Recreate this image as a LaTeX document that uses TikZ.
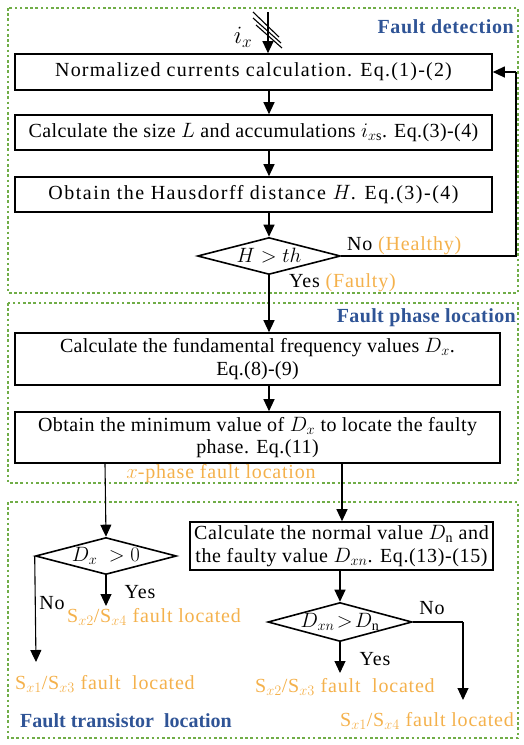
\documentclass[tikz,border=0pt]{standalone}
\usepackage{fontspec}
\setmainfont{Liberation Serif}
\usetikzlibrary{arrows.meta,shapes.geometric}
\definecolor{grn}{RGB}{112,173,71}
\definecolor{ttl}{RGB}{47,84,150}
\definecolor{org}{RGB}{244,177,76}
\begin{document}
\begin{tikzpicture}[x=1pt,y=-1pt,
  fnt/.style={font=\fontsize{20}{22.5}\selectfont\addfontfeatures{LetterSpace=#1}},
  every node/.style={fnt=4, inner sep=0pt},
  box/.style={draw, line width=1.6pt, align=center},
  dia/.style={draw, diamond, line width=1.6pt, inner sep=0pt, aspect=3.8},
  grp/.style={draw=grn, line width=2.6pt, dash pattern=on 2.6pt off 2.6pt},
  arr/.style={line width=1.1pt, -{Triangle[length=12pt,width=11pt]}},
  ln/.style={line width=1.1pt},
  ttlt/.style={text=ttl, font=\fontsize{20}{22.5}\selectfont\bfseries\addfontfeatures{LetterSpace=3}},
  otxt/.style={text=org}]
\useasboundingbox (0,0) rectangle (523,745);
% group frames
\draw[grp] (8,8) rectangle (518,293);
\draw[grp] (8,303) rectangle (518,483);
\draw[grp] (8,502) rectangle (518,738);
% titles
\node[ttlt, anchor=east] (t1) at (514,27) {Fault detection};
\node[ttlt, anchor=east, font=\fontsize{20}{22.5}\selectfont\bfseries\addfontfeatures{LetterSpace=2}] (t2) at (516,318) {Fault phase location};
\node[ttlt, anchor=west, font=\fontsize{20}{22.5}\selectfont\bfseries\addfontfeatures{LetterSpace=0}] (t3) at (20,721) {Fault transistor\ \ location};
% boxes
\node[box, fnt=6.1, minimum width=477pt, minimum height=36pt] (B1) at (253.5,72) {Normalized currents calculation. Eq.(1)-(2)};
\node[box, fnt=2, minimum width=477pt, minimum height=35pt] (B2) at (253.5,132.5) {Calculate the size $L$ and accumulations $i_{x\mathrm{s}}$. Eq.(3)-(4)};
\node[box, fnt=7.5, minimum width=477pt, minimum height=35pt] (B3) at (253.5,194.5) {Obtain the Hausdorff distance $H$. Eq.(3)-(4)};
\node[dia, minimum width=143pt, minimum height=37pt] (D1) at (269,256) {$H>th$};
\node[box, fnt=1.1, minimum width=485pt, minimum height=52pt] (P1) at (257.5,359) {Calculate the fundamental frequency values $D_x$.\\Eq.(8)-(9)};
\node[box, fnt=2.2, minimum width=485pt, minimum height=51pt] (P2) at (257.5,437.5) {Obtain the minimum value of $D_x$ to locate the faulty\\phase. Eq.(11)};
\node[box, fnt=3.2, minimum width=303pt, minimum height=48pt] (T2) at (341.5,546) {Calculate the normal value $D_\mathrm{n}$ and\\the faulty value $D_{xn}$. Eq.(13)-(15)};
\node[dia, minimum width=141pt, minimum height=37pt] (T1) at (106,556) {$D_x\ >0$};
\node[dia, minimum width=142pt, minimum height=39pt] (T3) at (340,622) {$D_{xn}\!>\!D_\mathrm{n}$};
% labels
\node[font=\fontsize{23}{25}\selectfont] (ix) at (243,37) {$i_x$};
\node[anchor=west] (no1) at (347,246) {No \textcolor{org}{(Healthy)}};
\node[anchor=west] (yes1) at (289,283) {Yes \textcolor{org}{(Faulty)}};
\node[otxt] (xph) at (221,474) {$x$-phase fault location};
\node (yes2) at (140,592) {Yes};
\node (no2) at (52,603) {No};
\node[otxt, anchor=west] (s24) at (67,617) {S$_{x2}$/S$_{x4}$ fault located};
\node[otxt, anchor=west] (s13) at (15,684) {S$_{x1}$/S$_{x3}$ fault\ \ located};
\node (no3) at (432,608) {No};
\node (yes3) at (375,659) {Yes};
\node[otxt, anchor=west] (s23) at (255,687) {S$_{x2}$/S$_{x3}$ fault\ \ located};
\node[otxt, anchor=west] (s14) at (340,721) {S$_{x1}$/S$_{x4}$ fault located};
% coordinates
\coordinate (ax) at (269,0);
\coordinate (in) at (268,12);
\coordinate (fb) at (516,0);
\coordinate (lx) at (105,0);
\coordinate (rx) at (342,0);
\coordinate (e1) at (106,606);
\coordinate (e2) at (36,662);
\coordinate (e3) at (340,673);
\coordinate (e4) at (463,700);
% input arrow with hatch
\draw[arr] (in) -- (B1.north -| in);
\draw[ln] (253,12) -- (279,37);
\draw[ln] (253,18) -- (281,43);
\draw[ln] (256,25) -- (282,48);
% connectors
\draw[arr] (B1.south -| ax) -- (B2.north -| ax);
\draw[arr] (B2.south -| ax) -- (B3.north -| ax);
\draw[arr] (B3.south -| ax) -- (D1.north);
\draw[ln] (D1.east) -- (D1.east -| fb) -- (B1.east -| fb);
\draw[arr] (B1.east -| fb) -- (B1.east);
\draw[arr] (D1.south) -- (P1.north -| ax);
\draw[arr] (P1.south -| ax) -- (P2.north -| ax);
\draw[arr] (P2.south -| lx) -- (T1.north);
\draw[arr] (P2.south -| rx) -- (T2.north -| rx);
\draw[arr] (T1.south) -- (e1);
\draw[arr] (T1.west) -- (e2);
\draw[arr] (T2.south -| T3.north) -- (T3.north);
\draw[arr] (T3.south) -- (e3);
\draw[ln] (T3.east) -- (T3.east -| e4);
\draw[arr] (T3.east -| e4) -- (e4);
\end{tikzpicture}
\end{document}
